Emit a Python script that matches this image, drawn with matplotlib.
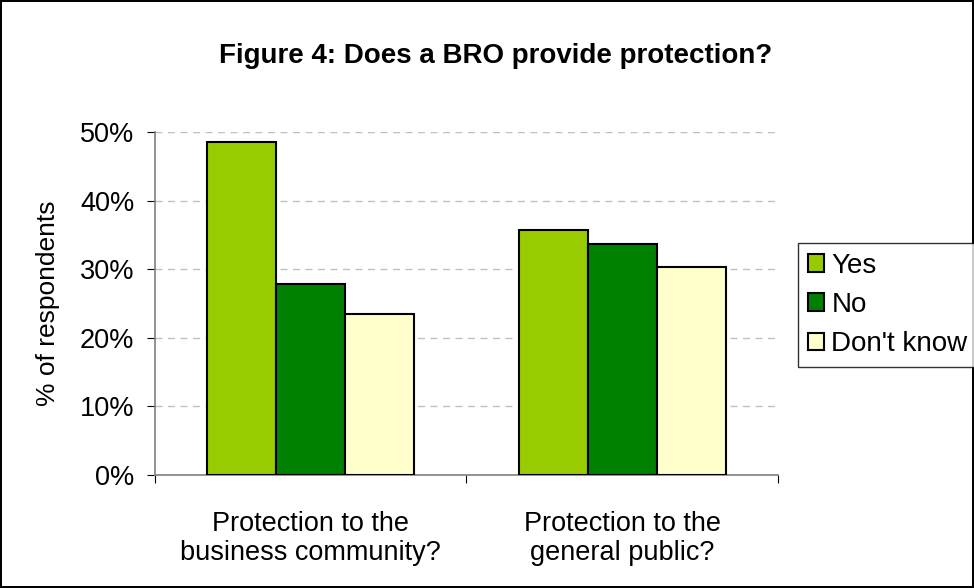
import numpy as np
import matplotlib
matplotlib.use('Agg')
from matplotlib import pyplot as plt
from matplotlib.patches import Patch

categories = ['Protection to the\nbusiness community?', 'Protection to the\ngeneral public?']
series_names = ['Yes', 'No', "Don't know"]
yes = [48.6, 35.7]
no = [27.8, 33.7]
dont_know = [23.5, 30.3]
colors = ['#99CC00', '#008000', '#FFFFCC']

plt.rcParams['font.family'] = ['Liberation Sans', 'DejaVu Sans']

fig = plt.figure(figsize=(9.74, 5.88), dpi=100)
fig.patch.set_edgecolor('black')
fig.patch.set_linewidth(1.5)
ax = fig.add_axes([0.1591, 0.1927, 0.6397, 0.5828])

x = np.arange(len(categories))
w = 0.2215
for i, vals in enumerate([yes, no, dont_know]):
    ax.bar(x + (i - 1) * w, vals, width=w, color=colors[i],
           edgecolor='black', linewidth=1.5, zorder=3)

ax.set_xlim(-0.5, 1.5)
ax.set_ylim(0, 50)
ax.set_yticks(np.arange(0, 51, 10))
ax.set_yticklabels([f'{v}%' for v in range(0, 51, 10)], fontsize=19.5)
ax.set_xticks([-0.5, 0.5, 1.5])
ax.set_xticklabels([])
ax.set_xticks(x, minor=True)
ax.set_xticklabels(categories, minor=True, fontsize=19.5, linespacing=1.18)
ax.tick_params(axis='x', which='minor', length=0, pad=26)
ax.tick_params(axis='x', which='major', direction='out', length=6, color='black')
ax.tick_params(axis='y', direction='out', length=6, color='black', pad=9)

ax.yaxis.grid(True, color='#C0C0C0', linestyle=(0, (5, 4)), linewidth=1, zorder=0)
for s in ['top', 'right']:
    ax.spines[s].set_visible(False)
for s in ['left', 'bottom']:
    ax.spines[s].set_color('#808080')
    ax.spines[s].set_linewidth(1.2)

ax.set_ylabel('% of respondents', fontsize=19, labelpad=14)
fig.suptitle('Figure 4: Does a BRO provide protection?', fontsize=20,
             fontweight='bold', x=496 / 974, y=1 - 56 / 588, va='center')

handles = [Patch(facecolor=c, edgecolor='black', linewidth=1.5) for c in colors]
leg = fig.legend(handles, series_names, loc='upper left',
                 bbox_to_anchor=(798 / 974, 1 - 243 / 588), fontsize=20,
                 frameon=True, fancybox=False, edgecolor='black',
                 handlelength=0.6, handleheight=0.6, handletextpad=0.25,
                 borderpad=0.35, labelspacing=0.48, borderaxespad=0)
leg.get_frame().set_linewidth(1)

fig.savefig('out.png', dpi=100)
